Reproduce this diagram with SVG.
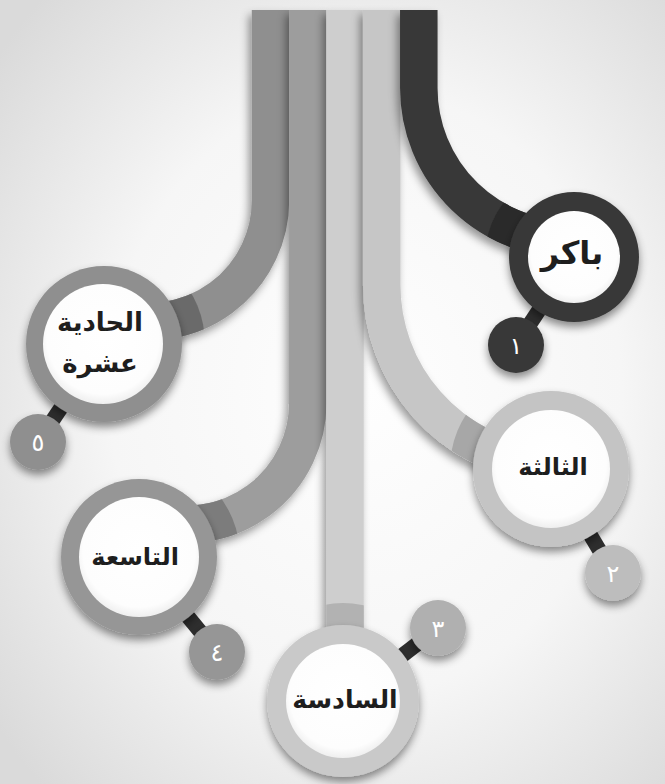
<svg xmlns="http://www.w3.org/2000/svg" width="665" height="784" viewBox="0 0 665 784">
  <defs>
    <radialGradient id="bg" cx="55%" cy="50%" r="70%">
      <stop offset="0" stop-color="#fefefe"/>
      <stop offset="0.55" stop-color="#f6f6f6"/>
      <stop offset="1" stop-color="#dadada"/>
    </radialGradient>
    <radialGradient id="face" cx="50%" cy="45%" r="55%">
      <stop offset="0" stop-color="#ffffff"/>
      <stop offset="0.85" stop-color="#fdfdfd"/>
      <stop offset="1" stop-color="#efefef"/>
    </radialGradient>
    <filter id="sh" filterUnits="userSpaceOnUse" x="0" y="0" width="665" height="784">
      <feDropShadow dx="-3" dy="5" stdDeviation="4" flood-color="#000" flood-opacity="0.4"/>
    </filter>
    <filter id="shc" filterUnits="userSpaceOnUse" x="0" y="0" width="665" height="784">
      <feDropShadow dx="0" dy="5" stdDeviation="4.5" flood-color="#000" flood-opacity="0.45"/>
    </filter>
    <clipPath id="z1"><circle cx="574" cy="257" r="89"/></clipPath>
    <clipPath id="z5"><circle cx="104" cy="344" r="101"/></clipPath>
    <clipPath id="z2"><circle cx="551" cy="469" r="101"/></clipPath>
    <clipPath id="z4"><circle cx="139" cy="557" r="101"/></clipPath>
    <clipPath id="z3"><circle cx="343" cy="701" r="98"/></clipPath>
    <style>
      .band{fill:none;stroke-width:37.5;stroke-linecap:butt}
      .face{fill:url(#face)}
      .lbl{font-family:"DejaVu Sans","Noto Sans",sans-serif;font-weight:bold;fill:#1e1e1e;text-anchor:middle}
      .num{font-family:"DejaVu Sans","Noto Sans",sans-serif;fill:#ffffff;text-anchor:middle;font-size:24px}
      .link{stroke:#2e2e2e;stroke-width:15;stroke-linecap:butt}
    </style>
  </defs>

  <rect x="0" y="0" width="665" height="784" fill="url(#bg)"/>

  <g id="connectors">
    <g id="band-5" filter="url(#sh)">
      <path class="band" stroke="#8f8f8f" d="M270.5 10 V200 A121.5 121.5 0 0 1 113 316.2"/>
      <path class="band" stroke="#6b6b6b" clip-path="url(#z5)" d="M270.5 10 V200 A121.5 121.5 0 0 1 113 316.2"/>
    </g>
    <g id="band-4" filter="url(#sh)">
      <path class="band" stroke="#9d9d9d" d="M307.8 10 V403 A121.5 121.5 0 0 1 150.5 519"/>
      <path class="band" stroke="#7b7b7b" clip-path="url(#z4)" d="M307.8 10 V403 A121.5 121.5 0 0 1 150.5 519"/>
    </g>
    <g id="band-3" filter="url(#sh)">
      <path class="band" stroke="#cecece" d="M345 10 V700"/>
      <path class="band" stroke="#b2b2b2" clip-path="url(#z3)" d="M345 10 V700"/>
    </g>
    <g id="band-2" filter="url(#sh)">
      <path class="band" stroke="#c6c6c6" d="M381.7 10 V285 A180.3 180.3 0 0 0 540 464"/>
      <path class="band" stroke="#a7a7a7" clip-path="url(#z2)" d="M381.7 10 V285 A180.3 180.3 0 0 0 540 464"/>
    </g>
    <g id="band-1" filter="url(#sh)">
      <path class="band" stroke="#383838" d="M418.8 10 V88 A151.2 151.2 0 0 0 575.3 239.1"/>
      <path class="band" stroke="#2c2c2c" clip-path="url(#z1)" d="M418.8 10 V88 A151.2 151.2 0 0 0 575.3 239.1"/>
    </g>
    <line class="link" x1="574" y1="257" x2="516" y2="345"/>
    <line class="link" x1="104" y1="344" x2="38" y2="442"/>
    <line class="link" x1="551" y1="469" x2="613" y2="573"/>
    <line class="link" x1="139" y1="557" x2="217" y2="652"/>
    <line class="link" x1="343" y1="701" x2="438" y2="628"/>
  </g>

  <g id="node-1">
    <circle cx="516" cy="345" r="28" fill="#383838" filter="url(#shc)"/>
    <text class="num" x="516" y="354">١</text>
    <circle cx="574" cy="257" r="65" fill="#383838" filter="url(#shc)"/>
    <circle class="face" cx="574" cy="257" r="46"/>
    <text class="lbl" x="572" y="264" font-size="32">باكر</text>
  </g>

  <g id="node-5">
    <circle cx="38" cy="442" r="28" fill="#8f8f8f" filter="url(#shc)"/>
    <text class="num" x="38" y="451">٥</text>
    <circle cx="104" cy="344" r="78" fill="#8f8f8f" filter="url(#shc)"/>
    <circle class="face" cx="103" cy="344" r="60"/>
    <text class="lbl" x="100" y="331" font-size="26">الحادية</text>
    <text class="lbl" x="100" y="372" font-size="26">عشرة</text>
  </g>

  <g id="node-2">
    <circle cx="613" cy="573" r="28" fill="#bdbdbd" filter="url(#shc)"/>
    <text class="num" x="613" y="582">٢</text>
    <circle cx="551" cy="469" r="78" fill="#c4c4c4" filter="url(#shc)"/>
    <circle class="face" cx="551" cy="469" r="59"/>
    <text class="lbl" x="553" y="475" font-size="24">الثالثة</text>
  </g>

  <g id="node-4">
    <circle cx="217" cy="652" r="28" fill="#969696" filter="url(#shc)"/>
    <text class="num" x="217" y="661">٤</text>
    <circle cx="139" cy="557" r="78" fill="#969696" filter="url(#shc)"/>
    <circle class="face" cx="139" cy="557" r="60"/>
    <text class="lbl" x="135" y="565" font-size="24">التاسعة</text>
  </g>

  <g id="node-3">
    <circle cx="438" cy="628" r="28" fill="#b0b0b0" filter="url(#shc)"/>
    <text class="num" x="438" y="637">٣</text>
    <circle cx="343" cy="701" r="76" fill="#c9c9c9" filter="url(#shc)"/>
    <circle class="face" cx="343" cy="701" r="57"/>
    <text class="lbl" x="345" y="708" font-size="25">السادسة</text>
  </g>
</svg>
